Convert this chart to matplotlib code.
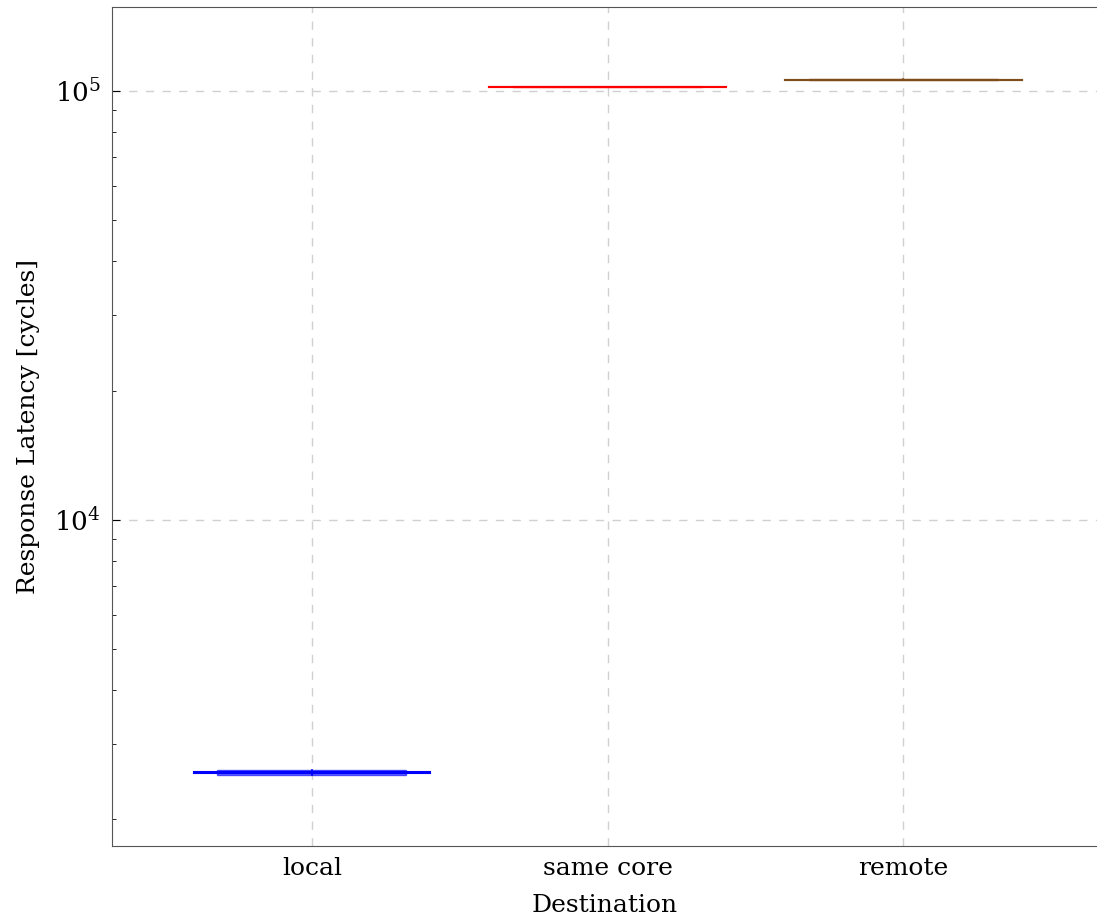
import numpy as np
import matplotlib.pyplot as plt
from matplotlib.ticker import LogLocator, NullFormatter

destinations = ["local", "same core", "remote"]
whis_low = [2571, 102050, 105950]
q1 = [2545, 101900, 105700]
median = [2573, 102100, 106000]
q3 = [2610, 102300, 106300]
whis_high = [2575, 102150, 106050]
colors = ["#0000ff", "#ff0000", "#804d1a"]

plt.rcParams["font.family"] = "DejaVu Serif"
plt.rcParams["mathtext.fontset"] = "dejavusans"

fig = plt.figure(figsize=(10.97, 9.19), dpi=100)
ax = fig.add_axes([0.102, 0.0794, 0.898, 0.913])

positions = np.arange(1, len(destinations) + 1)
for i, pos in enumerate(positions):
    stats = [dict(med=median[i], q1=q1[i], q3=q3[i],
                  whislo=whis_low[i], whishi=whis_high[i], fliers=[])]
    c = colors[i]
    ax.bxp(stats, positions=[pos], widths=0.64, patch_artist=True,
           showfliers=False, whiskerprops=dict(color=c, lw=1.2),
           capprops=dict(color=c, lw=1.5), capwidths=0.8,
           boxprops=dict(facecolor=c, edgecolor=c, alpha=0.6, lw=1.0),
           medianprops=dict(color=c, lw=1.5))

ax.set_yscale("log")
ax.set_ylim(1734, 156800)
ax.set_xlim(0.324, 3.655)
ax.set_xticks(positions)
ax.set_xticklabels(destinations, fontsize=18)
ax.yaxis.set_major_locator(LogLocator(base=10))
ax.yaxis.set_minor_locator(LogLocator(base=10, subs=np.arange(2, 10)))
ax.yaxis.set_minor_formatter(NullFormatter())
ax.tick_params(axis="y", which="major", labelsize=19, direction="in", length=6, right=False, pad=8)
ax.tick_params(axis="y", which="minor", direction="in", length=3, right=False)
ax.tick_params(axis="x", direction="in", length=0, pad=8)

ax.grid(True, which="major", linestyle=(0, (6, 6)), color="#d0d0d0", lw=1.0)
ax.set_axisbelow(True)
for s in ["left", "bottom", "top"]:
    ax.spines[s].set_color("#555555")
ax.spines["right"].set_visible(False)

ax.set_xlabel("Destination", fontsize=18, labelpad=10)
ax.set_ylabel("Response Latency [cycles]", fontsize=18, labelpad=10)

fig.savefig("out.png", dpi=100)
